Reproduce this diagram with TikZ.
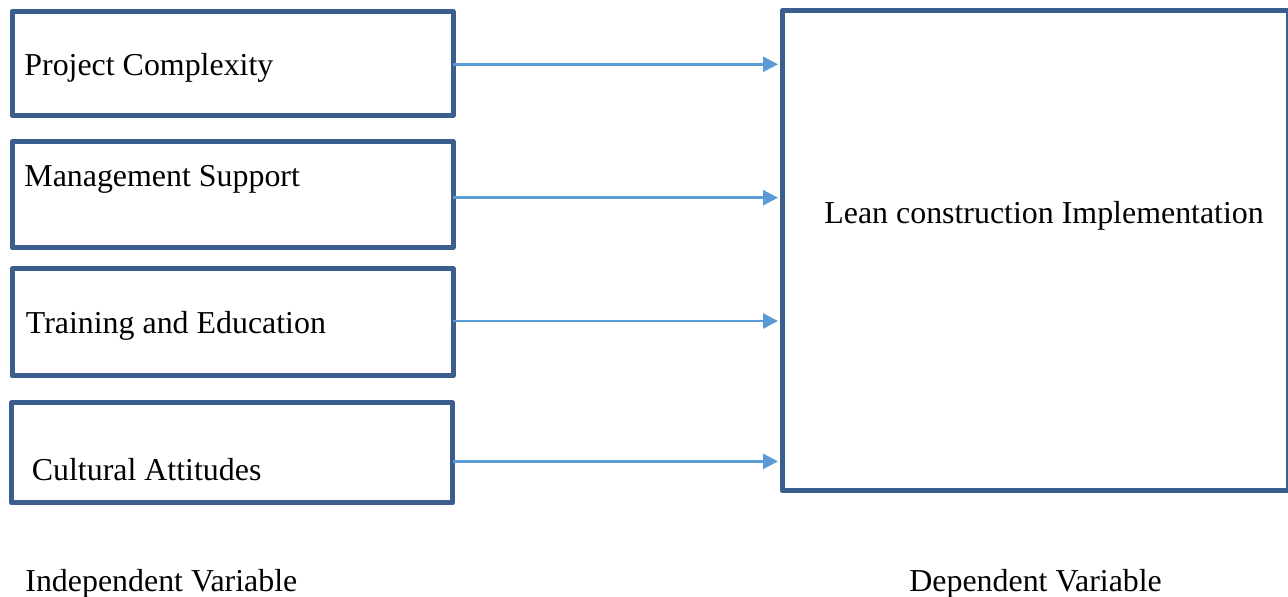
\documentclass[tikz,border=0pt]{standalone}
\usepackage{fontspec}
\setmainfont{Liberation Serif}
\usetikzlibrary{arrows.meta}

\definecolor{boxblue}{RGB}{59,94,140}
\definecolor{arrowblue}{RGB}{91,155,213}

\tikzset{
	varbox/.style={draw=boxblue, line width=2.5pt, line join=round,
		minimum width=220.5pt, inner sep=0pt, outer sep=0pt},
	varlabel/.style={anchor=base west, inner sep=0pt,
		font=\fontsize{15.95}{18}\selectfont},
	link/.style={draw=arrowblue, line width=1.35pt, shorten >=2pt,
		-{Triangle[length=7.5pt, width=7.5pt]}}
}

\begin{document}
\begin{tikzpicture}[x=0.5pt, y=-0.5pt]
	\useasboundingbox (0,0) rectangle (1288,597);

	\node
		[varbox, minimum height=52pt] (pc) at (232.5,63.5) {};
	\node
		[varbox, minimum height=53pt] (ms) at (232.5,194.5) {};
	\node
		[varbox, minimum height=53.5pt] (te) at (232.5,322.5) {};
	\node
		[varbox, minimum height=50pt] (ca) at (232,453) {};
	\node
		[varbox, minimum width=253pt, minimum height=239.75pt] (lci) at (1035,250.75) {};

	\node [varlabel] (pctext) at (24,76) {Project Complexity};
	\node [varlabel] (mstext) at (24,186.7) {Management Support};
	\node [varlabel] (tetext) at (25.5,333.3) {Training and Education};
	\node [varlabel] (catext) at (31.5,480.7) {Cultural Attitudes};
	\node [varlabel] (lcitext) at (824,223.3) {Lean construction Implementation};

	\node [varlabel] (indep) at (25,591) {Independent Variable};
	\node [varlabel] (dep) at (909,591) {Dependent Variable};

	\foreach \src/\dy in {pc/-0.4, ms/-1.6, te/0.75, ca/-4.2}
		\draw
			[link] ([yshift=\dy pt]\src.east) -- ([yshift=\dy pt]\src.east -| lci.west);
\end{tikzpicture}
\end{document}
